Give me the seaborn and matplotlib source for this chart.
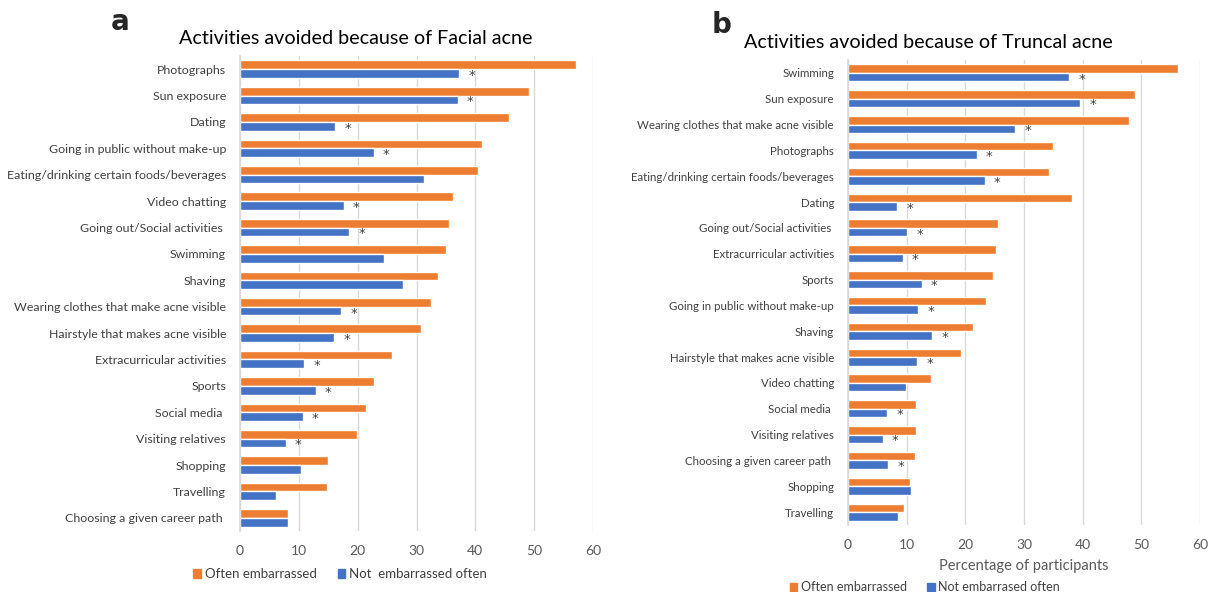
import matplotlib
matplotlib.use("Agg")
import matplotlib.pyplot as plt
import seaborn as sns
import pandas as pd
from matplotlib.patches import Patch

# ---- data: facial acne (panel a)
facial_categories = [
    "Photographs", "Sun exposure", "Dating", "Going in public without make-up",
    "Eating/drinking certain foods/beverages", "Video chatting",
    "Going out/Social activities ", "Swimming", "Shaving",
    "Wearing clothes that make acne visible", "Hairstyle that makes acne visible",
    "Extracurricular activities", "Sports", "Social media ", "Visiting relatives",
    "Shopping", "Travelling", "Choosing a given career path ",
]
facial_often = [57.1, 49.1, 45.8, 41.1, 40.5, 36.2, 35.6, 35.0, 33.6,
                32.4, 30.7, 25.8, 22.7, 21.5, 19.9, 14.9, 14.8, 8.1]
facial_not = [37.3, 37.0, 16.2, 22.7, 31.3, 17.6, 18.6, 24.4, 27.7,
              17.2, 16.0, 10.9, 12.9, 10.7, 7.8, 10.3, 6.2, 8.1]
facial_sig = [1, 1, 1, 1, 0, 1, 1, 0, 0, 1, 1, 1, 1, 1, 1, 0, 0, 0]

# ---- data: truncal acne (panel b)
truncal_categories = [
    "Swimming", "Sun exposure", "Wearing clothes that make acne visible",
    "Photographs", "Eating/drinking certain foods/beverages", "Dating",
    "Going out/Social activities ", "Extracurricular activities", "Sports",
    "Going in public without make-up", "Shaving", "Hairstyle that makes acne visible",
    "Video chatting", "Social media ", "Visiting relatives",
    "Choosing a given career path ", "Shopping", "Travelling",
]
truncal_often = [56.2, 48.9, 47.9, 35.0, 34.3, 38.1, 25.6, 25.2, 24.8,
                 23.5, 21.3, 19.3, 14.2, 11.6, 11.6, 11.4, 10.5, 9.5]
truncal_not = [37.7, 39.6, 28.5, 22.0, 23.3, 8.4, 10.1, 9.3, 12.6,
               12.0, 14.4, 11.8, 9.9, 6.7, 5.9, 6.9, 10.7, 8.6]
truncal_sig = [1, 1, 1, 1, 1, 1, 1, 1, 1, 1, 1, 1, 0, 1, 1, 1, 0, 0]

x_ticks = [0, 10, 20, 30, 40, 50, 60]
series_a = ["Often embarrassed", "Not  embarrassed often"]
series_b = ["Often embarrassed", "Not embarrased often"]

ORANGE = "#ED7D31"
BLUE = "#4472C4"

sns.set_theme(style="white")
plt.rcParams['font.family'] = ['Lato', 'DejaVu Sans']

fig = plt.figure(figsize=(12.08, 5.92), dpi=100)
W, H = 1208, 592


def make_df(cats, often, notoften, names):
    return pd.DataFrame({
        "cat": cats * 2,
        "val": often + notoften,
        "grp": [names[0]] * len(cats) + [names[1]] * len(cats),
    })


def panel(rect, cats, often, notoften, sig, names, labsize, xlabel=None):
    ax = fig.add_axes(rect)
    df = make_df(cats, often, notoften, names)
    sns.barplot(data=df, y="cat", x="val", hue="grp", orient="h", ax=ax,
                order=cats, hue_order=names, palette=[ORANGE, BLUE],
                width=0.66, saturation=1, errorbar=None, legend=False)
    ax.set_xlim(0, 60)
    ax.set_ylim(len(cats) - 0.5, -0.5)
    ax.set_xticks(x_ticks)
    ax.set_xticklabels([str(t) for t in x_ticks], color="#595959", fontsize=10)
    ax.tick_params(axis="y", labelsize=labsize, colors="#404040", length=0, pad=10)
    ax.tick_params(axis="x", length=0, pad=10)
    ax.grid(axis="x", color="#D9D9D9", linewidth=1)
    ax.set_axisbelow(True)
    for s in ["top", "right", "bottom"]:
        ax.spines[s].set_visible(False)
    ax.spines["left"].set_color("#D9D9D9")
    ax.set_ylabel("")
    if xlabel:
        ax.set_xlabel(xlabel, fontsize=10.5, color="#595959", labelpad=6)
    else:
        ax.set_xlabel("")
    for i, (v, s) in enumerate(zip(notoften, sig)):
        if s:
            ax.text(v + 2.1, i + 0.24, "*", ha="center", va="center",
                    fontsize=9.5, color="#404040", family="DejaVu Sans")
    return ax


ax1 = panel([240 / W, (H - 531) / H, 353 / W, 475 / H],
            facial_categories, facial_often, facial_not, facial_sig, series_a, 8.9)
ax2 = panel([848 / W, (H - 525) / H, 352 / W, 465 / H],
            truncal_categories, truncal_often, truncal_not, truncal_sig, series_b, 8.3,
            xlabel="Percentage of participants")

fig.text(356 / W, 1 - 38 / H, "Activities avoided because of Facial acne",
         ha="center", va="center", fontsize=14.2, color="#000000")
fig.text(928 / W, 1 - 42 / H, "Activities avoided because of Truncal acne",
         ha="center", va="center", fontsize=14.2, color="#000000")
fig.text(120 / W, 1 - 22 / H, "a", ha="center", va="center",
         fontsize=20, fontweight="bold", family="DejaVu Sans")
fig.text(722 / W, 1 - 25 / H, "b", ha="center", va="center",
         fontsize=20, fontweight="bold", family="DejaVu Sans")

handles_a = [Patch(color=ORANGE, label=series_a[0]), Patch(color=BLUE, label=series_a[1])]
handles_b = [Patch(color=ORANGE, label=series_b[0]), Patch(color=BLUE, label=series_b[1])]
for handles, cx, cy, fs in [(handles_a, 340, 574, 9.5), (handles_b, 925, 587, 9)]:
    leg = fig.legend(handles=handles, loc="center", bbox_to_anchor=(cx / W, 1 - cy / H),
                     ncol=2, frameon=False, fontsize=fs, handlelength=0.6,
                     handleheight=0.6, handletextpad=0.3, columnspacing=1.6)
    for t in leg.get_texts():
        t.set_color("#404040")

fig.savefig("out.png", dpi=100, facecolor="white")
